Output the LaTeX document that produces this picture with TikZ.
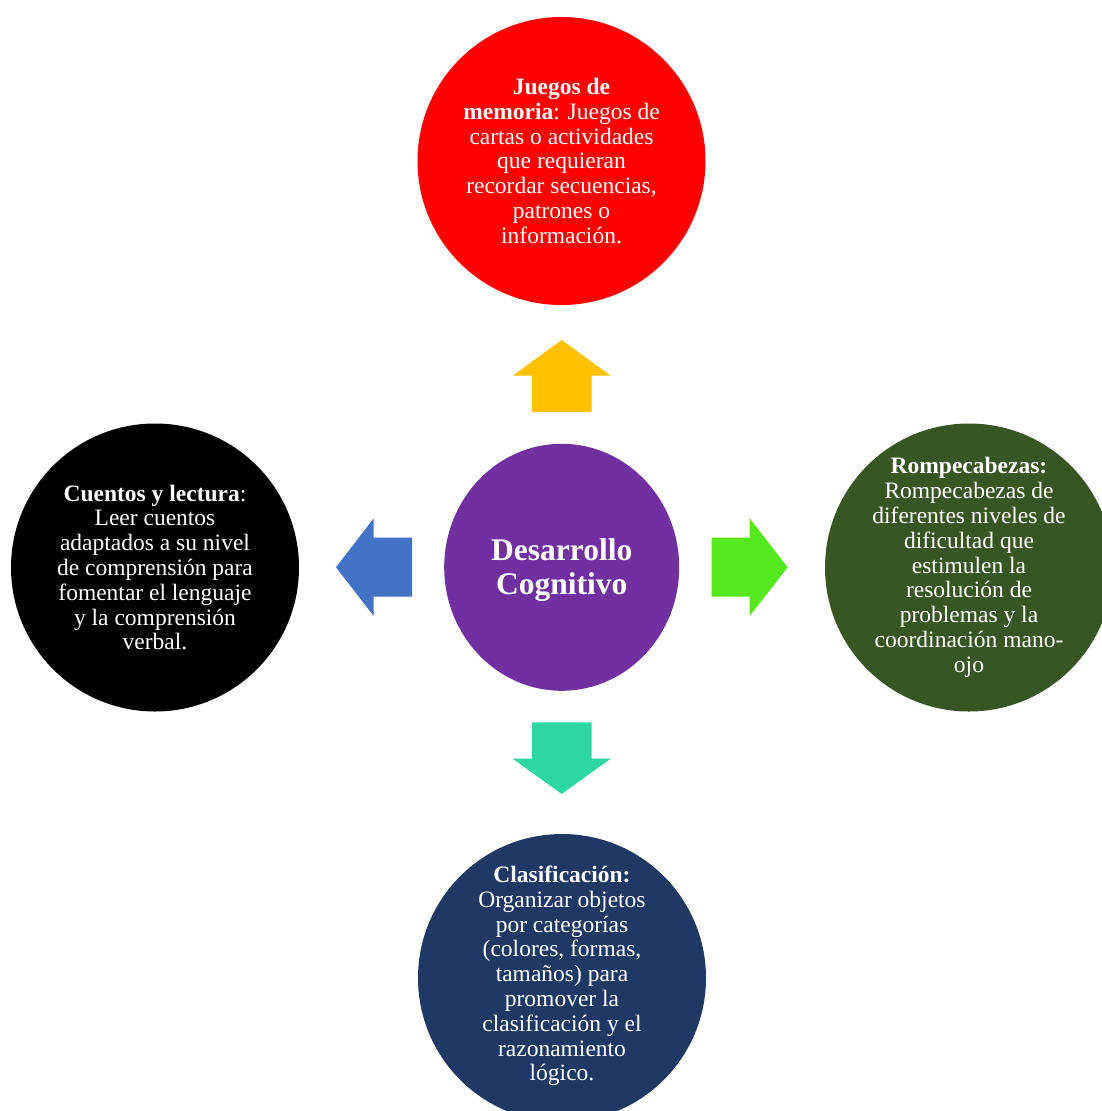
\documentclass[tikz,border=0pt]{standalone}
\usepackage{fontspec}
\setmainfont{Liberation Serif}
\usetikzlibrary{shapes.geometric}
\definecolor{cRed}{HTML}{FF0000}
\definecolor{cYellow}{HTML}{FFC000}
\definecolor{cPurple}{HTML}{7030A0}
\definecolor{cBlue}{HTML}{4472C4}
\definecolor{cLime}{HTML}{55E81D}
\definecolor{cTeal}{HTML}{2ED6A1}
\definecolor{cDkGreen}{HTML}{375623}
\definecolor{cNavy}{HTML}{1F3864}
\tikzset{
  bubble/.style={circle, minimum size=288pt, inner sep=0pt, draw=none},
  bubtext/.style={text=white, align=center, inner sep=0pt, font=\fontsize{23.5}{24.8}\selectfont},
  hub/.style={ellipse, minimum width=235pt, minimum height=247pt, inner sep=0pt, fill=cPurple},
  hubtext/.style={text=white, align=center, inner sep=0pt, font=\fontsize{31.5}{34}\selectfont\bfseries},
  blockarrow/.style={draw=none}
}
\begin{document}
\begin{tikzpicture}[x=1pt,y=-1pt]
\useasboundingbox (0,0) rectangle (1102,1111);
\clip (0,0) rectangle (1102,1111);
% center
\node[hub] (hub) at (561.7,567.3) {};
\node[hubtext] at ([yshift=-3pt]hub.center) {Desarrollo\\Cognitivo};
% outer circles
\node[bubble, fill=cRed] (mem) at (561.5,161) {};
\node[bubtext] at (mem.center) {\textbf{Juegos de}\\\textbf{memoria}: Juegos de\\cartas o actividades\\que requieran\\recordar secuencias,\\patrones o\\información.};
\node[bubble, fill=black] (cue) at (155,567.5) {};
\node[bubtext] at (cue.center) {\textbf{Cuentos y lectura}:\\Leer cuentos\\adaptados a su nivel\\de comprensión para\\fomentar el lenguaje\\y la comprensión\\verbal.};
\node[bubble, fill=cDkGreen] (rom) at (969,567.5) {};
\node[bubtext] at (rom.center) {\textbf{Rompecabezas:}\\Rompecabezas de\\diferentes niveles de\\dificultad que\\estimulen la\\resolución de\\problemas y la\\coordinación mano-\\ojo};
\node[bubble, fill=cNavy] (cla) at (562,978) {};
\node[bubtext] at ([yshift=2pt]cla.center) {\textbf{Clasificación:}\\Organizar objetos\\por categorías\\(colores, formas,\\tamaños) para\\promover la\\clasificación y el\\razonamiento\\lógico.};
% block arrows
\fill[blockarrow, cYellow] (532,412) -- (532,375.7) -- (512.7,375.7) -- (561.7,340) -- (610.7,375.7) -- (591.7,375.7) -- (591.7,412) -- cycle;
\fill[blockarrow, cTeal] (532,722.3) -- (591.7,722.3) -- (591.7,758.7) -- (610.7,758.7) -- (561.7,794) -- (512.7,758.7) -- (532,758.7) -- cycle;
\fill[blockarrow, cBlue] (412,537.7) -- (373.7,537.7) -- (373.7,518.3) -- (336,567.3) -- (373.7,616) -- (373.7,596.7) -- (412,596.7) -- cycle;
\fill[blockarrow, cLime] (711.7,537.7) -- (749.7,537.7) -- (749.7,518.3) -- (787.7,567.3) -- (749.7,616) -- (749.7,596.7) -- (711.7,596.7) -- cycle;
\end{tikzpicture}
\end{document}
